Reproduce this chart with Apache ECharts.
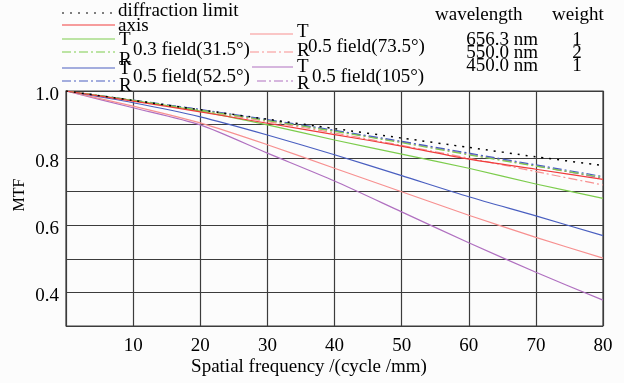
<!DOCTYPE html>
<html><head><meta charset="utf-8">
<script src="https://cdn.jsdelivr.net/npm/echarts@6/dist/echarts.min.js"></script>
<style>html,body{margin:0;padding:0;background:#fcfcfc}#c{width:624px;height:383px}</style>
</head><body><div id="c"></div>
<script>
var freq = [0, 10, 20, 30, 40, 50, 60, 70, 80];
var diffraction = [1.0, 0.972, 0.944, 0.916, 0.888, 0.860, 0.832, 0.804, 0.778];
var axisT = [1.0, 0.970, 0.938, 0.904, 0.870, 0.836, 0.797, 0.767, 0.737];
var f03T = [1.0, 0.972, 0.940, 0.899, 0.854, 0.812, 0.770, 0.723, 0.680];
var f03R = [1.0, 0.972, 0.943, 0.912, 0.880, 0.846, 0.810, 0.776, 0.742];
var f525T = [1.0, 0.965, 0.923, 0.869, 0.810, 0.748, 0.685, 0.628, 0.569];
var f525R = [1.0, 0.973, 0.945, 0.915, 0.883, 0.850, 0.815, 0.780, 0.745];
var f735T = [1.0, 0.955, 0.905, 0.840, 0.770, 0.700, 0.630, 0.564, 0.502];
var f735R = [1.0, 0.971, 0.941, 0.909, 0.875, 0.838, 0.800, 0.760, 0.720];
var f105T = [1.0, 0.950, 0.899, 0.815, 0.732, 0.640, 0.548, 0.460, 0.377];
var f105R = [1.0, 0.972, 0.944, 0.913, 0.881, 0.848, 0.812, 0.777, 0.740];
var wavelengths = ['656.3 nm', '550.0 nm', '450.0 nm'];
var weights = ['1', '2', '1'];

var FONT = 'Liberation Serif';
var C = {black:'#000', red:'#f03c3c', green:'#7ccc4c', blue:'#4a5fc0', salmon:'#f79090', purple:'#b070c0'};
var dashdot = [9, 3, 2, 3];
function pairs(arr){ return freq.map(function(f,i){ return [f, arr[i]]; }); }
function s(name, arr, color, type, width){
  return {name:name, type:'line', data:pairs(arr), smooth:0.25, symbol:'none',
    lineStyle:{color:color, width:width||1.2, type:type||'solid'}, z: 3};
}
var series = [
  s('f105R', f105R, C.purple, dashdot),
  s('f525R', f525R, C.blue, dashdot),
  s('f735R', f735R, C.salmon, dashdot),
  s('f03R', f03R, C.green, dashdot),
  s('f105T', f105T, C.purple),
  s('f735T', f735T, C.salmon),
  s('f525T', f525T, C.blue),
  s('f03T', f03T, C.green),
  s('axis', axisT, C.red),
  s('diffraction', diffraction, C.black, [2, 6], 1.5)
];

function line(x1,y1,x2,y2,color,type){
  return {type:'line', shape:{x1:x1,y1:y1,x2:x2,y2:y2}, style:{stroke:color, lineWidth:1.2, lineDash:type}};
}
function txt(x,y,t,align,size){
  return {type:'text', x:x, y:y, z:10, style:{text:t, font:(size||19)+'px "'+FONT+'"', fill:'#000', textAlign:align||'left', textVerticalAlign:'middle'}};
}
var g = [
  line(62,13,112,13,'#000',[2,6]), txt(118,11,'diffraction limit'),
  line(62,25,115,25,C.red), txt(118,26,'axis'),
  line(62,39,115,39,C.green), txt(119,40,'T'),
  line(62,52,115,52,C.green,dashdot), txt(119,60,'R'), txt(133,50,'0.3 field(31.5°)'),
  line(62,68,115,68,C.blue), txt(119,69,'T'),
  line(62,81,115,81,C.blue,dashdot), txt(119,86,'R'), txt(133,77,'0.5 field(52.5°)'),
  line(250,34,293,34,C.salmon), txt(297,32,'T'),
  line(250,52,293,52,C.salmon,dashdot), txt(297,51,'R'), txt(308,47,'0.5 field(73.5°)'),
  line(252,67,293,67,C.purple), txt(297,67,'T'),
  line(257,81,293,81,C.purple,dashdot), txt(297,84,'R'), txt(312,77,'0.5 field(105°)'),
  txt(435,15,'wavelength'), txt(552,15,'weight'),
  txt(538,40,wavelengths[0],'right'), txt(538,53,wavelengths[1],'right'), txt(538,66,wavelengths[2],'right'),
  txt(577,40,weights[0],'center'), txt(577,53,weights[1],'center'), txt(577,66,weights[2],'center'),
  txt(309,367,'Spatial frequency /(cycle /mm)','center'),
  {type:'text', x:20, y:195, rotation:Math.PI/2, z:10,
   style:{text:'MTF', font:'16px "'+FONT+'"', fill:'#000', textAlign:'center', textVerticalAlign:'middle'}}
];

var chart = echarts.init(document.getElementById('c'));
chart.setOption({
  backgroundColor:'#fcfcfc',
  animation:false,
  grid:{left:66, right:21, top:91, bottom:57, show:true, borderColor:'#3c3c3c', borderWidth:1.2},
  xAxis:{type:'value', min:0, max:80, interval:10,
    axisLine:{show:false}, axisTick:{show:false},
    splitLine:{lineStyle:{color:'#3c3c3c', width:1.2}},
    axisLabel:{fontFamily:FONT, fontSize:19, color:'#000', margin:11,
      formatter:function(v){ return v===0 ? '' : String(v); }}},
  yAxis:{type:'value', min:0.3, max:1.0, interval:0.1,
    axisLine:{show:false}, axisTick:{show:false},
    splitLine:{lineStyle:{color:'#3c3c3c', width:1.2}},
    axisLabel:{fontFamily:FONT, fontSize:19, color:'#000', margin:7,
      rich:{a:{fontFamily:FONT, fontSize:19, color:'#000', padding:[8,0,0,0]}},
      formatter:function(v){ var k=Math.round(v*10); return k%2===0 ? '{a|'+v.toFixed(1)+'}' : ''; }}},
  series:series,
  graphic:g
});
</script></body></html>
